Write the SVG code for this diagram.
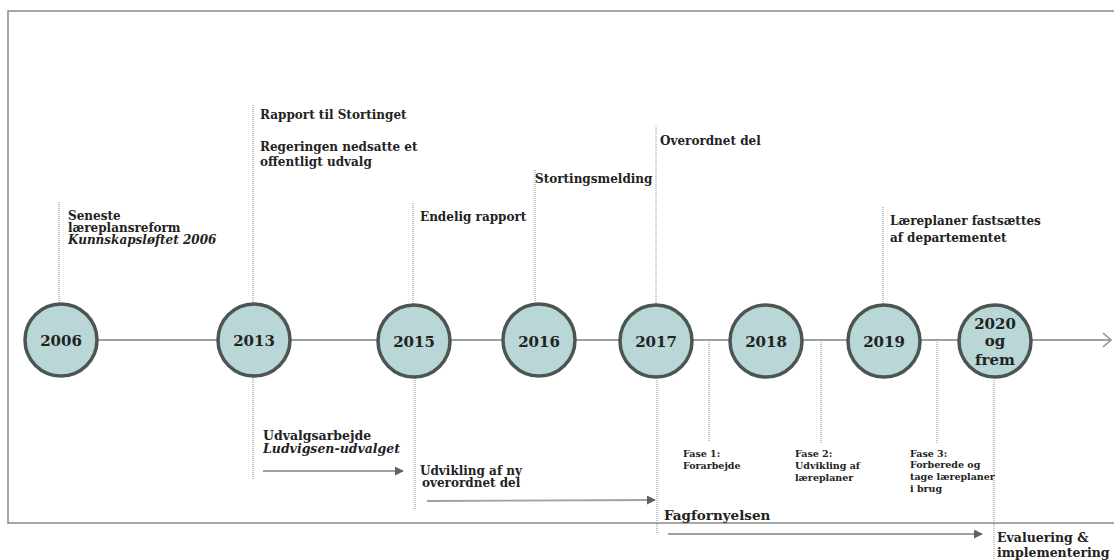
<svg xmlns="http://www.w3.org/2000/svg" width="1114" height="560" viewBox="0 0 1114 560">
<style>
  .t{font-family:"DejaVu Serif","Liberation Serif",serif;font-weight:bold;fill:#222;font-size:12px}
  .i{font-style:italic}
  .yr{font-family:"DejaVu Serif","Liberation Serif",serif;font-weight:bold;fill:#222;font-size:15px;text-anchor:middle}
  .sm{font-size:9.5px}
  .md{font-size:12.5px}
  .big{font-size:13.5px}
  .dot{stroke:#8a8a8a;stroke-width:1;stroke-dasharray:1 1;fill:none}
  .node circle{fill:#b8d7d6;stroke:#4b5552;stroke-width:3.5}
  .arr{stroke:#9aa3a1;stroke-width:1.8;fill:none}
</style>
<defs>
  <marker id="ah" viewBox="0 0 10 10" refX="9" refY="5" markerWidth="5" markerHeight="5" orient="auto" markerUnits="strokeWidth">
    <path d="M0,0 L10,5 L0,10 z" fill="#5a6361"/>
  </marker>
</defs>
<rect x="8" y="11" width="1120" height="512" fill="none" stroke="#8c9190" stroke-width="1.6"/>
<g id="connectors">
  <line class="arr" x1="61" y1="340" x2="1110" y2="340" stroke="#8f9896" stroke-width="2"/>
  <path d="M1103,333 L1111,340 L1103,347" fill="none" stroke="#8f9896" stroke-width="1.6"/>
  <line class="dot" x1="59" y1="202" x2="59" y2="304"/>
  <line class="dot" x1="253" y1="105" x2="253" y2="304"/>
  <line class="dot" x1="253" y1="378" x2="253" y2="480"/>
  <line class="dot" x1="413" y1="203" x2="413" y2="304"/>
  <line class="dot" x1="415" y1="378" x2="415" y2="509"/>
  <line class="dot" x1="535" y1="170" x2="535" y2="304"/>
  <line class="dot" x1="656" y1="126" x2="656" y2="304"/>
  <line class="dot" x1="657" y1="380" x2="657" y2="533"/>
  <line class="dot" x1="709" y1="340" x2="709" y2="442"/>
  <line class="dot" x1="821" y1="340" x2="821" y2="443"/>
  <line class="dot" x1="883" y1="207" x2="883" y2="304"/>
  <line class="dot" x1="937" y1="340" x2="937" y2="443"/>
  <line class="dot" x1="994" y1="380" x2="994" y2="560"/>
  <line class="arr" x1="263" y1="471" x2="403" y2="471" marker-end="url(#ah)"/>
  <line class="arr" x1="427" y1="501" x2="655" y2="500" marker-end="url(#ah)"/>
  <line class="arr" x1="668" y1="534" x2="982" y2="534" marker-end="url(#ah)"/>
</g>
<g id="n2006" class="node"><circle cx="61" cy="340" r="36"/><text class="yr" x="61" y="346">2006</text></g>
<g id="n2013" class="node"><circle cx="254" cy="340" r="36"/><text class="yr" x="254" y="346">2013</text></g>
<g id="n2015" class="node"><circle cx="414" cy="341" r="36"/><text class="yr" x="414" y="347">2015</text></g>
<g id="n2016" class="node"><circle cx="539" cy="340" r="36"/><text class="yr" x="539" y="347">2016</text></g>
<g id="n2017" class="node"><circle cx="656" cy="341" r="36"/><text class="yr" x="656" y="347">2017</text></g>
<g id="n2018" class="node"><circle cx="766" cy="341" r="36"/><text class="yr" x="766" y="347">2018</text></g>
<g id="n2019" class="node"><circle cx="884" cy="341" r="36"/><text class="yr" x="884" y="347">2019</text></g>
<g id="n2020" class="node"><circle cx="995" cy="341" r="36"/>
  <text class="yr" x="995" y="329">2020</text><text class="yr" x="995" y="346">og</text><text class="yr" x="995" y="365">frem</text></g>
<g id="labels">
  <text class="t" x="68" y="220">Seneste</text>
  <text class="t" x="68" y="232">læreplansreform</text>
  <text class="t i" x="68" y="244">Kunnskapsløftet 2006</text>
  <text class="t" x="260" y="119">Rapport til Stortinget</text>
  <text class="t" x="260" y="151">Regeringen nedsatte et</text>
  <text class="t" x="260" y="166">offentligt udvalg</text>
  <text class="t" x="420" y="221">Endelig rapport</text>
  <text class="t" x="535" y="183">Stortingsmelding</text>
  <text class="t" x="660" y="145">Overordnet del</text>
  <text class="t" x="890" y="225">Læreplaner fastsættes</text>
  <text class="t" x="890" y="242">af departementet</text>
  <text class="t md" x="263" y="440">Udvalgsarbejde</text>
  <text class="t md i" x="263" y="453">Ludvigsen-udvalget</text>
  <text class="t" x="420" y="475">Udvikling af ny</text>
  <text class="t" x="422" y="487">overordnet del</text>
  <text class="t big" x="664" y="520">Fagfornyelsen</text>
  <text class="t sm" x="683" y="457">Fase 1:</text>
  <text class="t sm" x="683" y="469">Forarbejde</text>
  <text class="t sm" x="795" y="457">Fase 2:</text>
  <text class="t sm" x="795" y="469">Udvikling af</text>
  <text class="t sm" x="795" y="481">læreplaner</text>
  <text class="t sm" x="910" y="457">Fase 3:</text>
  <text class="t sm" x="910" y="468">Forberede og</text>
  <text class="t sm" x="910" y="480">tage læreplaner</text>
  <text class="t sm" x="910" y="492">i brug</text>
  <text class="t md" x="997" y="542">Evaluering &amp;</text>
  <text class="t md" x="997" y="557">implementering</text>
</g>
</svg>
